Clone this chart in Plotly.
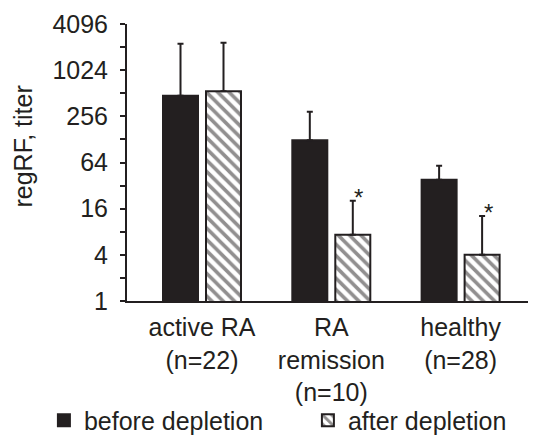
import math
import plotly.graph_objects as go

categories = ["active RA<br>(n=22)", "RA<br>remission<br>(n=10)", "healthy<br>(n=28)"]
before_vals = [476, 125, 38]
before_err_top = [2270, 294, 58]
after_vals = [543, 7.3, 4.0]
after_err_top = [2340, 20.3, 12.8]
signif = [False, True, True]
tick_vals = [1, 4, 16, 64, 256, 1024, 4096]
minor_vals = [2, 8, 32, 128, 512, 2048]

INK = "#231f20"
FONT = "Liberation Sans, Arial, sans-serif"
FS = 25

# the page body adds an 8 px margin, so the figure is 8 px smaller on each axis
W, H = 528, 427

x_idx = list(range(len(categories)))

fig = go.Figure()
fig.add_trace(go.Bar(
    x=x_idx, y=before_vals, name="before depletion", legend="legend",
    marker=dict(color=INK, line=dict(color=INK, width=2)),
    error_y=dict(type="data", symmetric=False,
                 array=[t - v for t, v in zip(before_err_top, before_vals)],
                 arrayminus=[0] * len(before_vals),
                 color=INK, thickness=2, width=3),
))
fig.add_trace(go.Bar(
    x=x_idx, y=after_vals, name="after depletion", legend="legend2",
    marker=dict(color="white", line=dict(color=INK, width=2),
                pattern=dict(shape="\\", fgcolor=INK, bgcolor="white", size=8, solidity=0.45)),
    error_y=dict(type="data", symmetric=False,
                 array=[t - v for t, v in zip(after_err_top, after_vals)],
                 arrayminus=[0] * len(after_vals),
                 color=INK, thickness=2, width=3),
))

bargap = 0.335
bargroupgap = 0.186
slot = (1 - bargap) / 2
after_offset = slot / 2

for i, (flag, top) in enumerate(zip(signif, after_err_top)):
    if flag:
        fig.add_annotation(x=i + after_offset, y=math.log10(top), text="*",
                           showarrow=False, xanchor="center", yanchor="bottom",
                           xshift=6, yshift=-12, font=dict(size=24, color=INK, family=FONT))

fig.add_annotation(x=-0.254, y=0.558, xref="paper", yref="paper", text="regRF, titer",
                   textangle=-90, showarrow=False, xanchor="center", yanchor="middle",
                   font=dict(size=FS, color=INK, family=FONT))

leg_common = dict(orientation="h", xref="container", yref="container",
                  yanchor="middle", y=0.034, xanchor="left",
                  font=dict(size=FS, color=INK, family=FONT), bgcolor="rgba(0,0,0,0)")

fig.update_layout(
    width=W, height=H,
    margin=dict(l=119, r=0, t=16, b=134, autoexpand=False),
    paper_bgcolor="white", plot_bgcolor="white",
    font=dict(family=FONT, size=FS, color=INK),
    barmode="group", bargap=bargap, bargroupgap=bargroupgap,
    showlegend=True,
    legend=dict(x=0.068, **leg_common),
    legend2=dict(x=0.568, **leg_common),
)
fig.update_xaxes(
    range=[-0.58, 2.583], tickmode="array", tickvals=x_idx, ticktext=categories,
    showline=True, linecolor=INK, linewidth=2, ticks="", showgrid=False, zeroline=False,
    ticklabelstandoff=3, automargin=False,
)
fig.update_yaxes(
    type="log", range=[0, math.log10(4096)], tickmode="array", tickvals=tick_vals,
    ticktext=[str(v) for v in tick_vals],
    showline=True, linecolor=INK, linewidth=2, ticks="outside", ticklen=5, tickwidth=1.5,
    tickcolor=INK, showgrid=False, zeroline=False, ticklabelstandoff=7, automargin=False,
    minor=dict(tickmode="array", tickvals=minor_vals, ticks="outside", ticklen=5,
               tickwidth=1.5, tickcolor=INK, showgrid=False),
)

fig.write_html("out.html")
